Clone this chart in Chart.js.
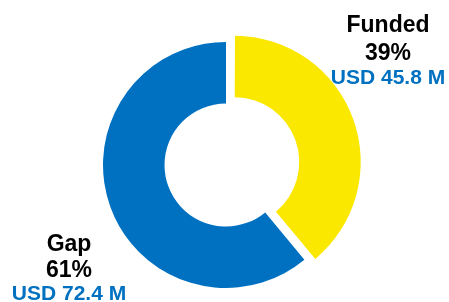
<!DOCTYPE html>
<html lang="en">

<head>
    <meta charset="UTF-8">
    <title>Funding Gap</title>
    <style>
        html, body {
            margin: 0;
            padding: 0;
            background: #ffffff;
        }

        .wrap {
            position: relative;
            width: 449px;
            height: 302px;
        }
    </style>
</head>

<body>

    <div class="wrap">
        <canvas id="fundingChart" width="449" height="302"></canvas>
    </div>

    <script src="https://cdn.jsdelivr.net/npm/chart.js"></script>
    <script>
        const categories = ['Funded', 'Gap'];
        const shares = [39, 61];
        const amounts = ['USD 45.8 M', 'USD 72.4 M'];
        const colors = ['#FBE800', '#0070C0'];

        // where each label block sits (center x, baselines of the 3 lines)
        const labelSpots = [
            { x: 388, lines: [32, 60, 84] },
            { x: 69, lines: [251, 277, 300] }
        ];

        const sliceLabels = {
            id: 'sliceLabels',
            afterDraw(chart) {
                const c = chart.ctx;
                c.save();
                c.textAlign = 'center';
                c.textBaseline = 'alphabetic';
                categories.forEach((name, i) => {
                    const spot = labelSpots[i];
                    c.fillStyle = '#000000';
                    c.font = 'bold 23px "Liberation Sans", Arial, sans-serif';
                    c.fillText(name, spot.x, spot.lines[0]);
                    c.fillText(shares[i] + '%', spot.x, spot.lines[1]);
                    c.fillStyle = '#0070C0';
                    c.font = 'bold 21px "Liberation Sans", Arial, sans-serif';
                    c.fillText(amounts[i], spot.x, spot.lines[2]);
                });
                c.restore();
            }
        };

        const ctx = document.getElementById('fundingChart').getContext('2d');
        new Chart(ctx, {
            type: 'doughnut',
            data: {
                labels: categories,
                datasets: [{
                    data: shares,
                    backgroundColor: colors,
                    borderWidth: 0,
                    offset: [36, 0],
                    hoverOffset: 0
                }]
            },
            options: {
                responsive: false,
                animation: false,
                cutout: '50%',
                radius: 123,
                layout: {
                    padding: { top: 28, bottom: 0, left: 3, right: 0 }
                },
                plugins: {
                    legend: { display: false },
                    tooltip: { enabled: false }
                },
                events: []
            },
            plugins: [sliceLabels]
        });
    </script>
</body>

</html>
